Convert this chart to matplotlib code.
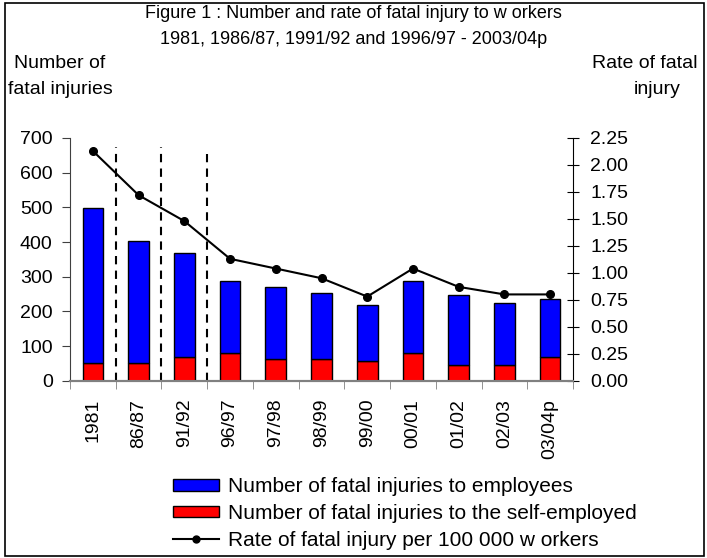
import numpy as np
import matplotlib
matplotlib.use('Agg')
import matplotlib.pyplot as plt
from matplotlib.patches import Patch, Rectangle
from matplotlib.lines import Line2D

plt.rcParams['font.family'] = ['Liberation Sans', 'DejaVu Sans']

# Data
years = ['1981', '86/87', '91/92', '96/97', '97/98', '98/99',
         '99/00', '00/01', '01/02', '02/03', '03/04p']
totals = [497, 404, 369, 288, 271, 254, 219, 288, 248, 225, 236]
self_employed = [52, 52, 69, 80, 63, 63, 58, 80, 46, 46, 69]
rate = [2.13, 1.72, 1.48, 1.13, 1.04, 0.95, 0.78, 1.04, 0.87, 0.80, 0.80]
# dashed separators between the non-consecutive years
breaks = [0.5, 1.5, 2.5]
break_tops = [675, 675, 655]

employees = [t - s for t, s in zip(totals, self_employed)]
x = np.arange(len(years))

fig = plt.figure(figsize=(7.07, 5.58), dpi=100)
ax = fig.add_axes([0.099, 0.3177, 0.7115, 0.435])
ax2 = ax.twinx()

ax.bar(x, self_employed, width=0.45, color='#FF0000', edgecolor='black', linewidth=1, zorder=3)
ax.bar(x, employees, width=0.45, bottom=self_employed, color='#0000FF',
       edgecolor='black', linewidth=1, zorder=3)

for b, top in zip(breaks, break_tops):
    ax.plot([b, b], [0, top], color='black', linestyle=(0, (4, 3)), linewidth=1.5, zorder=2)

ax2.plot(x, rate, color='black', marker='o', markersize=5.5, linewidth=1.5)

ax.set_xlim(-0.5, len(years) - 0.5)
ax.set_ylim(0, 700)
ax2.set_ylim(0, 2.25)
ax.set_yticks(range(0, 701, 100))
ax2.set_yticks(np.arange(0, 2.26, 0.25))
ax2.set_yticklabels([f'{v:.2f}' for v in np.arange(0, 2.26, 0.25)])

ax.set_xticks(x)
ax.set_xticklabels(years, rotation=90, fontsize=14)
ax.set_xticks(np.arange(-0.5, len(years), 1), minor=True)
ax.tick_params(axis='x', which='major', length=0, pad=13)
ax.tick_params(axis='x', which='minor', length=6, color='#808080', direction='out')
ax.tick_params(axis='y', labelsize=14, length=5.5, color='#404040', pad=7)
ax2.tick_params(axis='y', labelsize=14, length=9, color='black', direction='inout', pad=8)

for a in (ax, ax2):
    a.spines['top'].set_visible(False)
    a.spines['bottom'].set_color('#808080')
    a.spines['bottom'].set_linewidth(1.5)
ax.spines['left'].set_color('#404040')
ax.spines['right'].set_visible(False)
ax2.spines['left'].set_visible(False)
ax2.spines['right'].set_color('black')

fig.text(0.5, 1 - 14 / 558, 'Figure 1 : Number and rate of fatal injury to w orkers',
         ha='center', va='center', fontsize=13)
fig.text(0.5, 1 - 39 / 558, '1981, 1986/87, 1991/92 and 1996/97 - 2003/04p',
         ha='center', va='center', fontsize=13)
fig.text(14 / 707, 1 - 64 / 558, 'Number of', ha='left', va='center', fontsize=14)
fig.text(8 / 707, 1 - 89 / 558, 'fatal injuries', ha='left', va='center', fontsize=14)
fig.text(698 / 707, 1 - 64 / 558, 'Rate of fatal', ha='right', va='center', fontsize=14)
fig.text(681 / 707, 1 - 89 / 558, 'injury', ha='right', va='center', fontsize=14)

handles = [Patch(facecolor='#0000FF', edgecolor='black'),
           Patch(facecolor='#FF0000', edgecolor='black'),
           Line2D([], [], color='black', marker='o', markersize=5, linewidth=1.5)]
labels = ['Number of fatal injuries to employees',
          'Number of fatal injuries to the self-employed',
          'Rate of fatal injury per 100 000 w orkers']
fig.legend(handles, labels, loc='upper left', bbox_to_anchor=(169 / 707, 1 - 473 / 558),
           frameon=False, fontsize=15, handlelength=2.2, handleheight=0.5,
           handletextpad=0.43, labelspacing=0.37, borderpad=0.2, borderaxespad=0)

fig.patches.append(Rectangle((5 / 707, 2 / 558), 699 / 707, 553 / 558, transform=fig.transFigure,
                             fill=False, edgecolor='black', linewidth=1.2))

fig.savefig('out.png', dpi=100)
